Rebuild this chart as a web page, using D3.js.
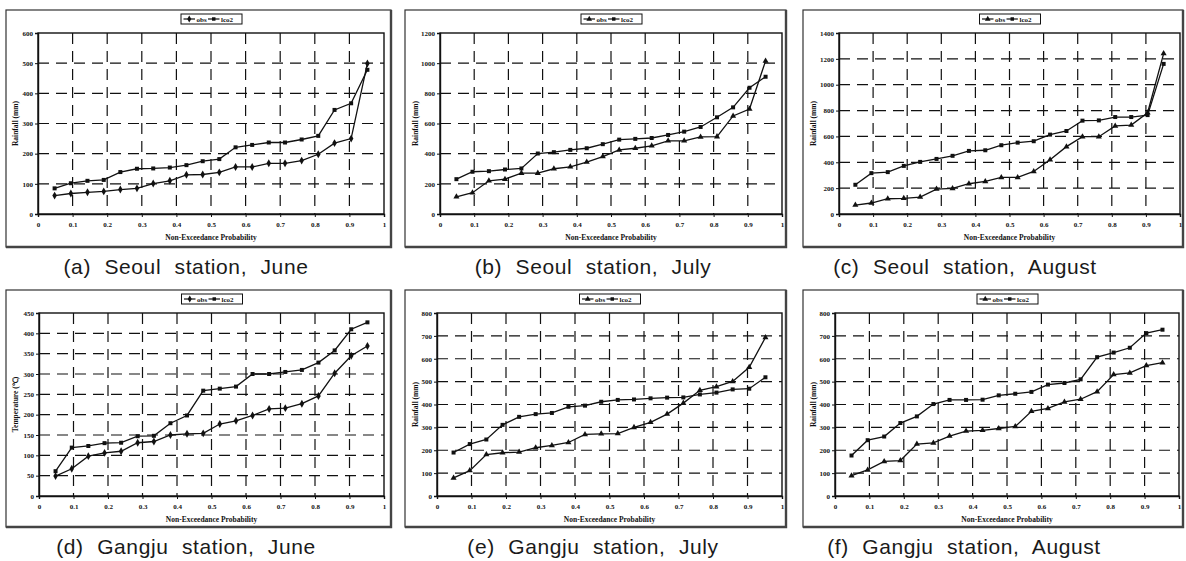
<!DOCTYPE html>
<html>
<head>
<meta charset="utf-8">
<script src="https://cdn.jsdelivr.net/npm/d3@7"></script>
<style>
  body { margin: 0; background: #fff; }
  svg { display: block; }
</style>
</head>
<body>
<svg id="chart" width="1186" height="561"></svg>
<script>
// Non-exceedance probabilities (plotting positions, 20 ranked values)
const xProb = [0.048, 0.095, 0.143, 0.190, 0.238, 0.286, 0.333, 0.381, 0.429, 0.476,
               0.524, 0.571, 0.619, 0.667, 0.714, 0.762, 0.810, 0.857, 0.905, 0.952];
const xTicks = [0, 0.1, 0.2, 0.3, 0.4, 0.5, 0.6, 0.7, 0.8, 0.9, 1];
const seriesNames = ["obs", "lco2"];

// Seoul, June
const obsSeoulJune  = [61, 68, 72, 75, 81, 85, 101, 110, 130, 131, 138, 156, 156, 168, 168, 177, 198, 235, 250, 499];
const lco2SeoulJune = [85, 102, 110, 113, 139, 150, 151, 154, 162, 175, 182, 221, 229, 237, 237, 247, 259, 345, 367, 478];
const yTicksSeoulJune = [0, 100, 200, 300, 400, 500, 600];

// Seoul, July
const obsSeoulJuly  = [114, 141, 220, 231, 271, 271, 300, 313, 344, 381, 425, 436, 452, 485, 485, 511, 513, 650, 696, 1015];
const lco2SeoulJuly = [231, 280, 284, 295, 302, 401, 410, 425, 436, 463, 493, 498, 504, 524, 546, 577, 641, 707, 837, 910];
const yTicksSeoulJuly = [0, 200, 400, 600, 800, 1000, 1200];

// Seoul, August
const obsSeoulAug  = [69, 85, 118, 121, 131, 193, 198, 234, 252, 283, 283, 329, 419, 521, 598, 598, 681, 688, 783, 1241];
const lco2SeoulAug = [226, 316, 324, 372, 403, 426, 450, 488, 493, 532, 552, 563, 614, 642, 722, 724, 750, 750, 765, 1161];
const yTicksSeoulAug = [0, 200, 400, 600, 800, 1000, 1200, 1400];

// Gangju, June
const obsGangjuJune  = [49, 67, 98, 106, 110, 131, 134, 150, 153, 154, 177, 185, 198, 214, 216, 227, 246, 302, 345, 369];
const lco2GangjuJune = [61, 119, 123, 130, 131, 147, 148, 179, 198, 259, 264, 269, 300, 300, 305, 310, 328, 358, 410, 427];
const yTicksGangjuJune = [0, 50, 100, 150, 200, 250, 300, 350, 400, 450];

// Gangju, July
const obsGangjuJuly  = [79, 111, 181, 189, 192, 211, 221, 234, 269, 272, 273, 300, 322, 358, 406, 462, 478, 501, 563, 693];
const lco2GangjuJuly = [190, 227, 247, 311, 346, 358, 363, 390, 395, 412, 420, 422, 427, 430, 431, 444, 452, 466, 469, 519];
const yTicksGangjuJuly = [0, 100, 200, 300, 400, 500, 600, 700, 800];

// Gangju, August
const obsGangjuAug  = [89, 114, 151, 155, 227, 232, 262, 284, 287, 295, 304, 370, 383, 411, 423, 456, 531, 538, 570, 583];
const lco2GangjuAug = [177, 244, 260, 319, 348, 402, 420, 420, 421, 440, 447, 455, 487, 494, 510, 607, 627, 648, 712, 727];
const yTicksGangjuAug = [0, 100, 200, 300, 400, 500, 600, 700, 800];

const panels = [
  { obs: obsSeoulJune,  lco2: lco2SeoulJune,  yTicks: yTicksSeoulJune,  yTitle: "Rainfall (mm)",   obsMark: "diamond",  caption: "(a) Seoul station, June" },
  { obs: obsSeoulJuly,  lco2: lco2SeoulJuly,  yTicks: yTicksSeoulJuly,  yTitle: "Rainfall (mm)",   obsMark: "triangle", caption: "(b) Seoul station, July" },
  { obs: obsSeoulAug,   lco2: lco2SeoulAug,   yTicks: yTicksSeoulAug,   yTitle: "Rainfall (mm)",   obsMark: "triangle", caption: "(c) Seoul station, August" },
  { obs: obsGangjuJune, lco2: lco2GangjuJune, yTicks: yTicksGangjuJune, yTitle: "Temperature (\u2103)", obsMark: "diamond",  caption: "(d) Gangju station, June" },
  { obs: obsGangjuJuly, lco2: lco2GangjuJuly, yTicks: yTicksGangjuJuly, yTitle: "Rainfall (mm)",   obsMark: "triangle", caption: "(e) Gangju station, July" },
  { obs: obsGangjuAug,  lco2: lco2GangjuAug,  yTicks: yTicksGangjuAug,  yTitle: "Rainfall (mm)",   obsMark: "triangle", caption: "(f) Gangju station, August" }
];

// Frame geometry for each panel: outer box, plot area, y-title x, caption centre
const frames = [
  { ox0: 6,   ox1: 391,  oy0: 10,  oy1: 247, l: 38,  r: 384,  t: 33,  b: 214, ytx: 15,  cx: 186, cy: 274 },
  { ox0: 405, ox1: 786,  oy0: 10,  oy1: 247, l: 440, r: 782,  t: 33,  b: 214, ytx: 415, cx: 593, cy: 274 },
  { ox0: 803, ox1: 1183, oy0: 10,  oy1: 247, l: 839, r: 1180, t: 33,  b: 214, ytx: 813, cx: 965, cy: 274 },
  { ox0: 6,   ox1: 391,  oy0: 290, oy1: 527, l: 39,  r: 384,  t: 313, b: 496, ytx: 15,  cx: 186, cy: 554 },
  { ox0: 405, ox1: 786,  oy0: 290, oy1: 527, l: 437, r: 782,  t: 313, b: 496, ytx: 415, cx: 593, cy: 554 },
  { ox0: 803, ox1: 1183, oy0: 290, oy1: 527, l: 835, r: 1179, t: 313, b: 496, ytx: 813, cx: 964, cy: 554 }
];

const svg = d3.select("#chart");
const serif = "'Liberation Serif', 'Times New Roman', serif";
const ink = "#111";

function markerPath(kind, size) {
  const type = kind === "triangle" ? d3.symbolTriangle
             : kind === "square" ? d3.symbolSquare
             : d3.symbolDiamond;
  return d3.symbol().type(type).size(size)();
}

panels.forEach((p, i) => {
  const f = frames[i];
  const g = svg.append("g");

  // outer chart box with heavier bottom/right edges
  g.append("rect")
    .attr("x", f.ox0).attr("y", f.oy0)
    .attr("width", f.ox1 - f.ox0).attr("height", f.oy1 - f.oy0)
    .attr("fill", "#fff").attr("stroke", "#333").attr("stroke-width", 1.2);
  g.append("path")
    .attr("d", `M${f.ox0},${f.oy1} H${f.ox1} V${f.oy0}`)
    .attr("fill", "none").attr("stroke", "#444").attr("stroke-width", 2.4);

  const x = d3.scaleLinear().domain([0, 1]).range([f.l, f.r]);
  const yMax = p.yTicks[p.yTicks.length - 1];
  const y = d3.scaleLinear().domain([0, yMax]).range([f.b, f.t]);

  // dashed grid
  g.append("g").selectAll("line.h")
    .data(p.yTicks.filter(v => v > 0 && v < yMax))
    .join("line")
    .attr("x1", f.l).attr("x2", f.r)
    .attr("y1", d => y(d)).attr("y2", d => y(d))
    .attr("stroke", ink).attr("stroke-width", 1.2).attr("stroke-dasharray", "11,7");
  g.append("g").selectAll("line.v")
    .data(xTicks.filter(v => v > 0 && v < 1))
    .join("line")
    .attr("x1", d => x(d)).attr("x2", d => x(d))
    .attr("y1", f.t).attr("y2", f.b)
    .attr("stroke", ink).attr("stroke-width", 1.2).attr("stroke-dasharray", "11,7");

  // plot-area border
  g.append("rect")
    .attr("x", f.l).attr("y", f.t)
    .attr("width", f.r - f.l).attr("height", f.b - f.t)
    .attr("fill", "none").attr("stroke", ink).attr("stroke-width", 1.4);

  // axes
  const yAxis = g.append("g")
    .attr("transform", `translate(${f.l},0)`)
    .call(d3.axisLeft(y).tickValues(p.yTicks).tickSize(3).tickPadding(2).tickFormat(d3.format("d")));
  const xAxis = g.append("g")
    .attr("transform", `translate(0,${f.b})`)
    .call(d3.axisBottom(x).tickValues(xTicks).tickSize(3).tickPadding(5)
      .tickFormat(d => (d === 0 || d === 1) ? String(d) : d.toFixed(1)));
  [yAxis, xAxis].forEach(a => {
    a.select(".domain").attr("stroke", ink).attr("stroke-width", 1.4);
    a.selectAll(".tick line").attr("stroke", ink).attr("stroke-width", 1);
    a.selectAll(".tick text")
      .attr("fill", ink)
      .style("font-family", serif).style("font-weight", "bold").style("font-size", "7px");
  });

  // axis titles
  g.append("text")
    .attr("x", (f.l + f.r) / 2).attr("y", f.b + 26)
    .attr("text-anchor", "middle")
    .style("font-family", serif).style("font-weight", "bold").style("font-size", "7.5px")
    .attr("fill", ink)
    .text("Non-Exceedance Probability");
  g.append("text")
    .attr("transform", `translate(${f.ytx},${(f.t + f.b) / 2}) rotate(-90)`)
    .attr("text-anchor", "middle").attr("dy", "0.35em")
    .style("font-family", serif).style("font-weight", "bold").style("font-size", "7.5px")
    .attr("fill", ink)
    .text(p.yTitle);

  // series lines and markers
  const line = d3.line().x((d, k) => x(xProb[k])).y(d => y(d));
  const series = [
    { values: p.obs, mark: p.obsMark, size: p.obsMark === "triangle" ? 16 : 18 },
    { values: p.lco2, mark: "square", size: 16 }
  ];
  series.forEach(s => {
    g.append("path")
      .datum(s.values)
      .attr("d", line)
      .attr("fill", "none").attr("stroke", ink).attr("stroke-width", 1.3);
    g.append("g").selectAll("path")
      .data(s.values)
      .join("path")
      .attr("transform", (d, k) => `translate(${x(xProb[k])},${y(d)})`)
      .attr("d", markerPath(s.mark, s.size))
      .attr("fill", ink);
  });

  // legend
  const lx = (f.l + f.r) / 2 - 30, ly = f.t - 19;
  const lg = g.append("g").attr("transform", `translate(${lx},${ly})`);
  lg.append("rect").attr("width", 61).attr("height", 10)
    .attr("fill", "#fff").attr("stroke", ink).attr("stroke-width", 1);
  const entries = [
    { name: seriesNames[0], mark: p.obsMark, x0: 2.5, size: 14 },
    { name: seriesNames[1], mark: "square", x0: 27, size: 12 }
  ];
  entries.forEach(e => {
    lg.append("line").attr("x1", e.x0).attr("x2", e.x0 + 11.5)
      .attr("y1", 5).attr("y2", 5).attr("stroke", ink).attr("stroke-width", 1.2);
    lg.append("path").attr("transform", `translate(${e.x0 + 5.75},5)`)
      .attr("d", markerPath(e.mark, e.size)).attr("fill", ink);
    lg.append("text").attr("x", e.x0 + 13).attr("y", 7.5)
      .style("font-family", serif).style("font-weight", "bold").style("font-size", "7px")
      .attr("fill", ink).text(e.name);
  });

  // caption
  svg.append("text")
    .attr("x", f.cx).attr("y", f.cy)
    .attr("text-anchor", "middle")
    .style("font-family", "'Liberation Sans', Arial, sans-serif")
    .style("font-size", "21px")
    .style("letter-spacing", "0.6px")
    .style("word-spacing", "7px")
    .attr("fill", "#1a1a1a")
    .text(p.caption);
});
</script>
</body>
</html>
